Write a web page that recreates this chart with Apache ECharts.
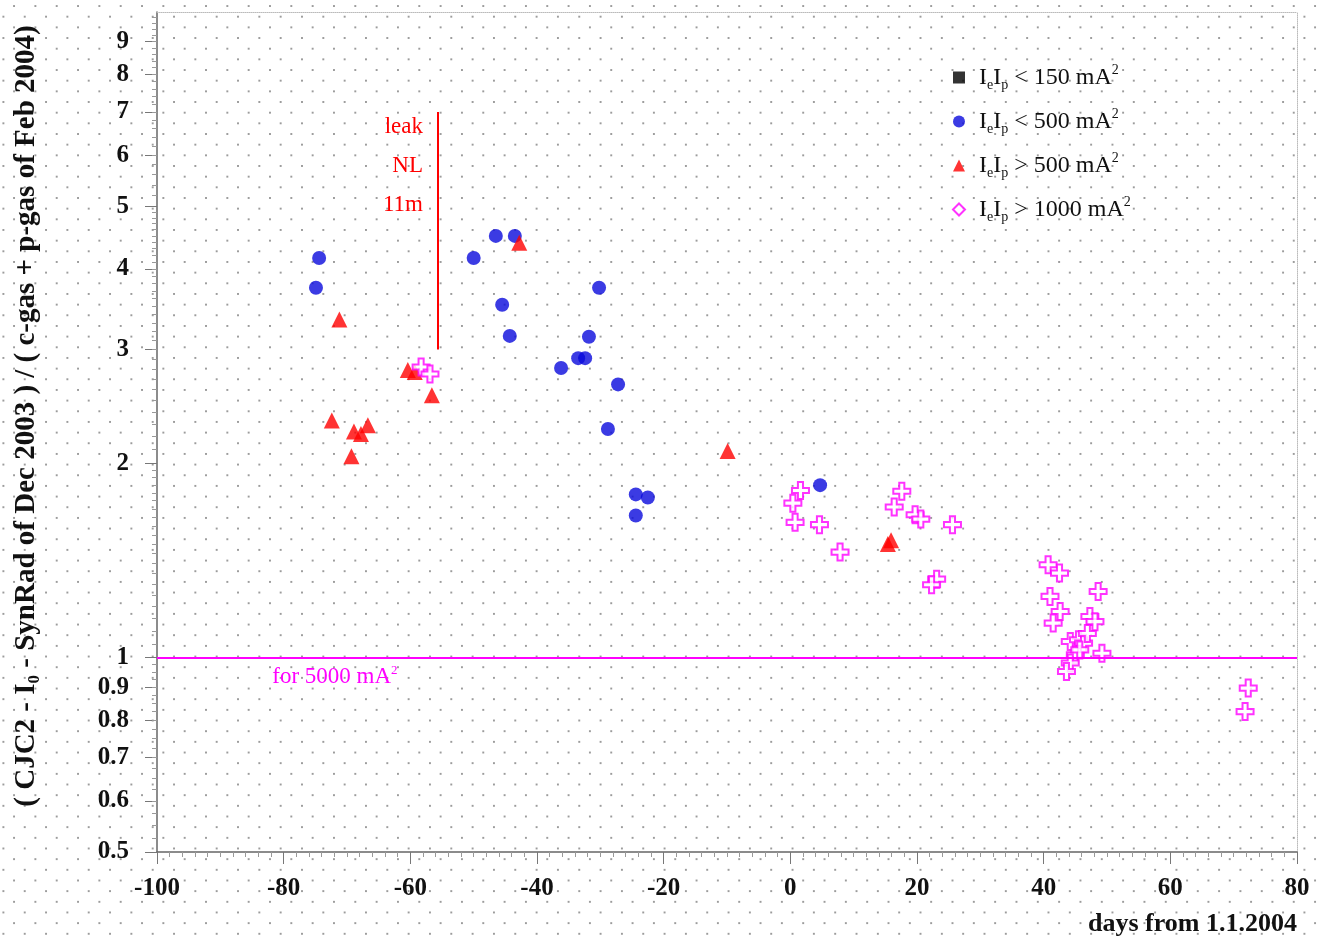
<!DOCTYPE html>
<html>
<head>
<meta charset="utf-8">
<script src="https://cdn.jsdelivr.net/npm/echarts@6/dist/echarts.min.js"></script>
<style>
  html, body { margin: 0; padding: 0; }
  body {
    background-color: #fff;
    background-image: radial-gradient(circle, #9c9c9c 0.9px, transparent 1.4px),
                      radial-gradient(circle, #9c9c9c 0.9px, transparent 1.4px);
    background-size: 21.33px 21.33px, 21.33px 21.33px;
    background-position: -7.27px 6.03px, 3.4px -4.63px;
  }
  #chart { width: 1317px; height: 941px; }
</style>
</head>
<body>
<div id="chart"></div>
<script>
// days from 1.1.2004 / ratio
const blueX = [-74.4, -74.9, -50.0, -46.5, -43.5, -45.5, -44.3, -30.2, -31.8, -33.5, -32.4, -36.2, -27.2, -28.8, -24.4, -22.5, -24.4, 4.7];
const blueY = [4.16, 3.74, 4.16, 4.50, 4.50, 3.52, 3.15, 3.74, 3.14, 2.91, 2.91, 2.81, 2.65, 2.26, 1.79, 1.77, 1.66, 1.85];

const redX = [-71.2, -72.4, -68.9, -67.8, -66.7, -69.3, -60.4, -59.3, -56.6, -42.8, -9.9, 15.4, 15.9];
const redY = [3.34, 2.33, 2.24, 2.22, 2.29, 2.05, 2.79, 2.77, 2.55, 4.39, 2.09, 1.50, 1.52];

const magX = [-58.3, -56.9, 1.6, 0.4, 0.75, 4.6, 7.85, 17.6, 16.4, 19.7, 20.6, 25.6, 23.1, 22.3,
              40.7, 42.5, 41.0, 42.6, 41.5, 48.6, 47.3, 48.1, 44.2, 45.5, 46.3, 45.0, 45.7, 49.2, 44.2, 43.6, 46.9,
              72.3, 71.8];
const magY = [2.82, 2.75, 1.815, 1.735, 1.62, 1.607, 1.457, 1.81, 1.711, 1.665, 1.639, 1.607, 1.323, 1.297,
              1.393, 1.352, 1.244, 1.179, 1.131, 1.266, 1.158, 1.137, 1.059, 1.066, 1.053, 1.01, 1.028, 1.016, 0.981, 0.952, 1.09,
              0.897, 0.825];

const blackX = [];
const blackY = [];

const yTicks = [0.5, 0.6, 0.7, 0.8, 0.9, 1, 2, 3, 4, 5, 6, 7, 8, 9];

// annotations
const leakX = -55.6;
const leakY = [3, 7];
const leakTextPos = [-58.0, 5.78];
const refLevel = 1;
const refTextPos = [-81.8, 0.934];

function pairs(xs, ys) {
    return xs.map((x, i) => [x, ys[i]]);
}

// small ticks along the log axis
function minorTicks() {
    const out = [];
    const steps = [[0.5, 1, 0.025], [1, 2, 0.05], [2, 5, 0.1], [5, 10, 0.2]];
    steps.forEach(([a, b, s]) => {
        for (let v = a + s; v < b - s / 2; v += s) out.push(Math.round(v * 1000) / 1000);
    });
    return out;
}

const serif = '"Liberation Serif", "Times New Roman", serif';
const crossPath = 'path://M3.5,0H6.5V3.5H10V6.5H6.5V10H3.5V6.5H0V3.5H3.5Z';

const legendText = {
    s150: '{f|I}{s|e}{i|I}{s|p}{i| < 150 mA}{u|2}',
    s500: '{f|I}{s|e}{i|I}{s|p}{i| < 500 mA}{u|2}',
    s500p: '{f|I}{s|e}{i|I}{s|p}{i| > 500 mA}{u|2}',
    s1000: '{f|I}{s|e}{i|I}{s|p}{i| > 1000 mA}{u|2}'
};

let myChart = echarts.init(document.getElementById('chart'));

let option = {
    animation: false,
    backgroundColor: 'transparent',
    textStyle: { fontFamily: serif },
    grid: { left: 157, right: 20, top: 12, bottom: 89 },
    legend: {
        orient: 'vertical',
        left: 947,
        top: 58,
        itemWidth: 12,
        itemHeight: 12,
        itemGap: 15,
        selectedMode: false,
        data: [
            { name: 's150', icon: 'rect' },
            { name: 's500', icon: 'circle' },
            { name: 's500p', icon: 'triangle' },
            { name: 's1000', icon: 'diamond' }
        ],
        formatter: n => legendText[n],
        textStyle: {
            fontFamily: serif,
            fontSize: 24,
            color: '#111',
            rich: {
                f: { fontFamily: serif, fontSize: 24, color: '#111', lineHeight: 29, padding: [0, 0, 0, 9] },
                i: { fontFamily: serif, fontSize: 24, color: '#111', lineHeight: 29 },
                s: { fontFamily: serif, fontSize: 14, color: '#111', lineHeight: 12, verticalAlign: 'bottom' },
                u: { fontFamily: serif, fontSize: 14, color: '#111', lineHeight: 12, verticalAlign: 'top' }
            }
        }
    },
    xAxis: [
        {
            type: 'value',
            min: -100,
            max: 80,
            interval: 20,
            name: 'days from 1.1.2004',
            nameLocation: 'end',
            nameGap: 0,
            nameTextStyle: {
                fontFamily: serif, fontWeight: 'bold', fontSize: 26, color: '#111',
                align: 'right', verticalAlign: 'top', padding: [59, 0, 0, 0]
            },
            axisLine: { onZero: false, lineStyle: { color: '#666', width: 1.5 } },
            axisTick: { length: 12, lineStyle: { color: '#777' } },
            minorTick: { show: true, splitNumber: 10, length: 5, lineStyle: { color: '#999' } },
            splitLine: { show: false },
            axisLabel: { fontFamily: serif, fontWeight: 'bold', fontSize: 25, color: '#111', margin: 24 }
        },
        {
            type: 'value',
            min: -100,
            max: 80,
            position: 'top',
            axisLine: { show: true, lineStyle: { color: '#bbb', type: 'dotted' } },
            axisTick: { show: false },
            axisLabel: { show: false },
            splitLine: { show: false }
        }
    ],
    yAxis: [
        {
            type: 'log',
            min: 0.5,
            max: 10,
            name: '{n|( CJC2 - I}{s|0}{n| - SynRad of Dec 2003 ) / ( c-gas + p-gas of Feb 2004)}',
            nameLocation: 'middle',
            nameGap: 114,
            nameTextStyle: {
                padding: [0, 0, 0, 32],
                rich: {
                    n: { fontFamily: serif, fontWeight: 'bold', fontSize: 29, color: '#111', lineHeight: 32 },
                    s: { fontFamily: serif, fontWeight: 'bold', fontSize: 17, color: '#111', lineHeight: 14, verticalAlign: 'bottom' }
                }
            },
            axisLine: { show: true, onZero: false, lineStyle: { color: '#666', width: 1.5 } },
            axisTick: { length: 12, lineStyle: { color: '#777' }, customValues: yTicks },
            splitLine: { show: false },
            axisLabel: {
                fontFamily: serif, fontWeight: 'bold', fontSize: 25, color: '#111', margin: 28,
                customValues: yTicks,
                formatter: v => String(Math.round(v * 10) / 10)
            }
        },
        {
            type: 'log',
            min: 0.5,
            max: 10,
            position: 'right',
            axisLine: { show: true, onZero: false, lineStyle: { color: '#bbb', type: 'dotted' } },
            axisTick: { show: false },
            axisLabel: { show: false },
            splitLine: { show: false }
        },
        {
            type: 'log',
            min: 0.5,
            max: 10,
            position: 'left',
            axisLine: { show: false, onZero: false },
            axisTick: { length: 5, lineStyle: { color: '#999' }, customValues: minorTicks() },
            axisLabel: { show: false },
            splitLine: { show: false }
        }
    ],
    series: [
        {
            name: 's150',
            type: 'scatter',
            symbol: 'rect',
            symbolSize: 12,
            itemStyle: { color: '#000' },
            data: pairs(blackX, blackY)
        },
        {
            name: 's500',
            type: 'scatter',
            symbol: 'circle',
            symbolSize: 14,
            itemStyle: { color: '#0a0adc' },
            data: pairs(blueX, blueY)
        },
        {
            name: 's500p',
            type: 'scatter',
            symbol: 'triangle',
            symbolSize: 16,
            itemStyle: { color: '#ff0000' },
            data: pairs(redX, redY)
        },
        {
            name: 's1000',
            type: 'scatter',
            symbol: crossPath,
            symbolSize: 17,
            itemStyle: { color: '#ffffff', borderColor: '#ff00ff', borderWidth: 2 },
            data: pairs(magX, magY)
        },
        {
            name: 'notes',
            type: 'scatter',
            data: [],
            silent: true,
            markLine: {
                silent: true,
                symbol: ['none', 'none'],
                label: { show: false },
                data: [
                    [{ coord: [leakX, leakY[0]], lineStyle: { color: '#ff0000', width: 2, type: 'solid' } },
                     { coord: [leakX, leakY[1]] }],
                    [{ coord: [-100, refLevel], lineStyle: { color: '#ff00ff', width: 2, type: 'solid' } },
                     { coord: [80, refLevel] }]
                ]
            },
            markPoint: {
                silent: true,
                symbol: 'circle',
                symbolSize: 0,
                data: [
                    {
                        coord: leakTextPos,
                        label: {
                            show: true, position: 'inside', align: 'right', verticalAlign: 'middle',
                            formatter: 'leak\nNL\n11m', color: '#ff0000',
                            fontFamily: serif, fontSize: 23, lineHeight: 39
                        }
                    },
                    {
                        coord: refTextPos,
                        label: {
                            show: true, position: 'inside', align: 'left', verticalAlign: 'middle',
                            formatter: '{t|for 5000 mA}{u|2}',
                            rich: {
                                t: { fontFamily: serif, fontSize: 23, color: '#ff00ff', lineHeight: 26 },
                                u: { fontFamily: serif, fontSize: 13, color: '#ff00ff', lineHeight: 12, verticalAlign: 'top' }
                            }
                        }
                    }
                ]
            }
        }
    ]
};

myChart.setOption(option);
</script>
</body>
</html>
